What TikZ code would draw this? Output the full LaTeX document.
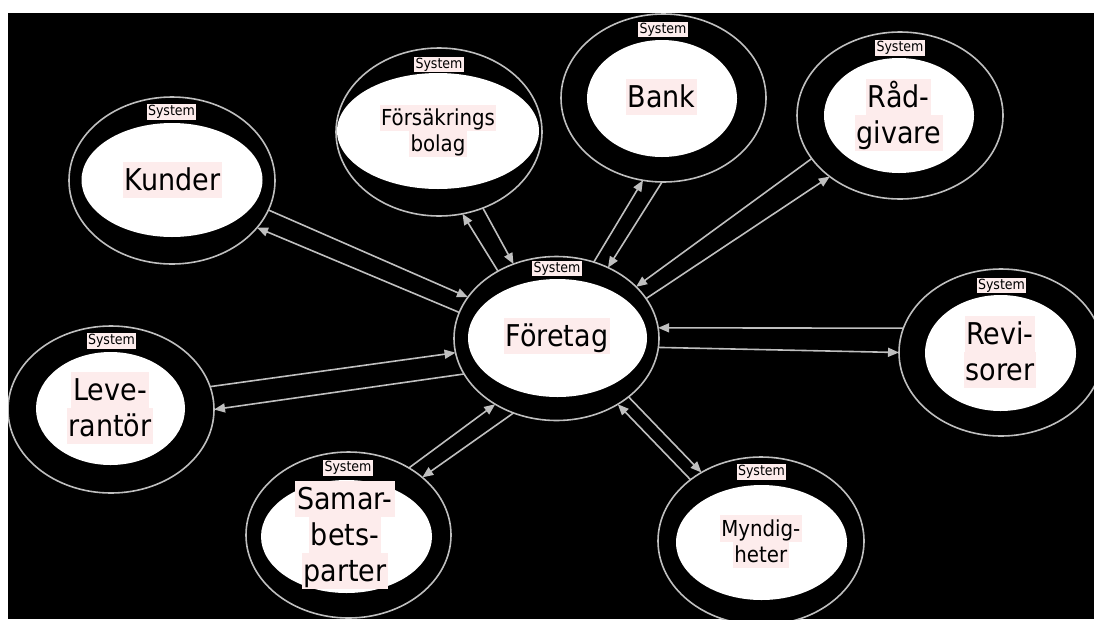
\documentclass[tikz,border=0pt]{standalone}
\usepackage{fontspec}
\setmainfont{DejaVu Sans Condensed}
\usetikzlibrary{shapes.geometric,arrows.meta}
\definecolor{hl}{RGB}{253,236,236}
\definecolor{ln}{RGB}{191,191,191}
\newcommand\hlbox[1]{{\setlength{\fboxsep}{0pt}\colorbox{hl}{\rule[-0.25em]{0pt}{1.2em}\kern0.06em#1\kern0.06em}}}
\tikzset{
  outer/.style={ellipse, draw=ln, line width=1.6pt, fill=black, inner sep=0pt, outer sep=0pt},
  inner/.style={ellipse, fill=white, inner sep=0pt, outer sep=0pt},
  sys/.style={fill=hl, inner sep=1.2pt, font=\fontsize{14}{16}\selectfont, text height=10.5pt, text depth=3pt},
  big/.style={align=center, inner sep=0pt, font=\fontsize{30}{36}\selectfont},
  small/.style={align=center, inner sep=0pt, font=\fontsize{22}{26.4}\selectfont},
  conn/.style={draw=ln, line width=1.6pt, -{Triangle[length=11pt,width=9pt]}}
}
\begin{document}
\begin{tikzpicture}[x=1pt,y=-1pt]
\useasboundingbox (0,0) rectangle (1094,619);
\fill[white] (0,0) rectangle (1094,619);
\fill[black] (8,13) rectangle (1094,619);
\begin{scope}
\clip (8,13) rectangle (1094,619);
% outer ellipses
\node[outer, minimum width=206pt, minimum height=167pt] (kunder) at (172,180.5) {};
\node[outer, minimum width=206pt, minimum height=168pt] (fors) at (439,132) {};
\node[outer, minimum width=205pt, minimum height=168pt] (bank) at (663.5,98) {};
\node[outer, minimum width=206pt, minimum height=167pt] (rad) at (900,115.5) {};
\node[outer, minimum width=205pt, minimum height=164pt] (foretag) at (556.5,338.5) {};
\node[outer, minimum width=206pt, minimum height=167pt] (lev) at (111,409.5) {};
\node[outer, minimum width=205pt, minimum height=166pt] (samar) at (348.5,535) {};
\node[outer, minimum width=204pt, minimum height=167pt] (revi) at (1001,352.5) {};
\node[outer, minimum width=206pt, minimum height=168pt] (mynd) at (761,541) {};
% inner ellipses
\node[inner, minimum width=181pt, minimum height=114pt] (kunderin) at (172,180) {};
\node[inner, minimum width=202pt, minimum height=116pt] (forsin) at (438,131) {};
\node[inner, minimum width=150pt, minimum height=117pt] (bankin) at (662,98.5) {};
\node[inner, minimum width=150pt, minimum height=115pt] (radin) at (899,115.5) {};
\node[inner, minimum width=179pt, minimum height=118pt] (foretagin) at (557.5,338) {};
\node[inner, minimum width=149pt, minimum height=113pt] (levin) at (110.5,408.5) {};
\node[inner, minimum width=171pt, minimum height=113pt] (samarin) at (346.5,536.5) {};
\node[inner, minimum width=151pt, minimum height=116pt] (reviin) at (1000.5,353) {};
\node[inner, minimum width=171pt, minimum height=115pt] (myndin) at (761.5,542.5) {};
% system labels
\node[sys] (kundersys) at (171.5,111.7) {System};
\node[sys] (forssys) at (439,64.5) {System};
\node[sys] (banksys) at (663,29.5) {System};
\node[sys] (radsys) at (900,47.8) {System};
\node[sys] (foretagsys) at (557,268.5) {System};
\node[sys] (levsys) at (111.5,341) {System};
\node[sys] (samarsys) at (348,468) {System};
\node[sys] (revisys) at (1001.5,285.5) {System};
\node[sys] (myndsys) at (761.5,472) {System};
% texts
\node[big] (kundertxt) at (172.5,179.5) {\hlbox{Kunder}};
\node[small] (forstxt) at (438,131) {\hlbox{Försäkrings}\\\hlbox{bolag}};
\node[big] (banktxt) at (661.7,96.5) {\hlbox{Bank}};
\node[big] (radtxt) at (898.7,114.5) {\hlbox{Råd-}\\\hlbox{givare}};
\node[big] (foretagtxt) at (557,335.5) {\hlbox{Företag}};
\node[big] (levtxt) at (110,407.5) {\hlbox{Leve-}\\\hlbox{rantör}};
\node[big] (samartxt) at (345,535) {\hlbox{Samar-}\\\hlbox{bets-}\\\hlbox{parter}};
\node[big] (revitxt) at (1000,352) {\hlbox{Revi-}\\\hlbox{sorer}};
\node[small] (myndtxt) at (760.8,541.5) {\hlbox{Myndig-}\\\hlbox{heter}};
% connectors
\draw[conn] (kunder.-17.5) -- (foretag.155.6);
\draw[conn] (foretag.165.9) -- (kunder.-29.4);
\draw[conn] (fors.-60.5) -- (foretag.120);
\draw[conn] (foretag.131.1) -- (fors.-74.1);
\draw[conn] (foretag.64.4) -- (bank.-104);
\draw[conn] (bank.-91) -- (foretag.54);
\draw[conn] (rad.-154) -- (foretag.33.6);
\draw[conn] (foretag.24.4) -- (rad.-139.9);
\draw[conn] (revi.166.5) -- (foretag.6.9);
\draw[conn] (foretag.-5.8) -- (revi.180.3);
\draw[conn] (mynd.139.7) -- (foretag.-47.6);
\draw[conn] (foretag.-39) -- (mynd.131.9);
\draw[conn] (samar.48.7) -- (foretag.-133.7);
\draw[conn] (foretag.-120.3) -- (samar.38.8);
\draw[conn] (lev.13.3) -- (foretag.-172);
\draw[conn] (foretag.-159.9) -- (lev.0.3);
\end{scope}
\end{tikzpicture}
\end{document}
